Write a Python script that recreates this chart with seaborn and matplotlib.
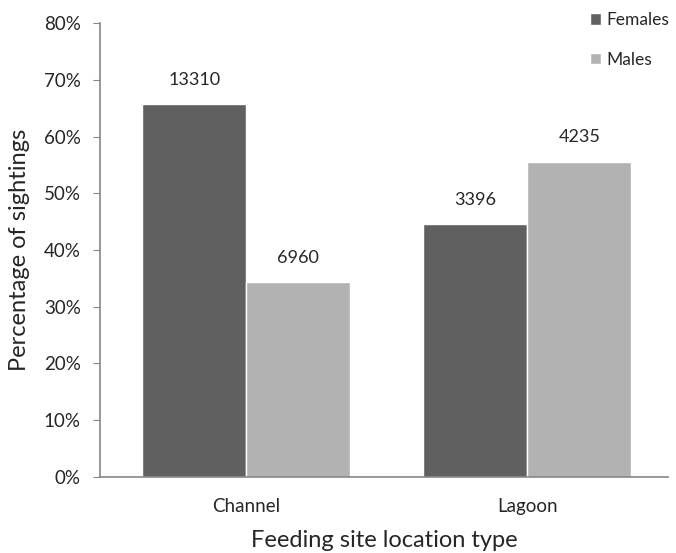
import pandas as pd
import matplotlib.pyplot as plt
import seaborn as sns
from matplotlib.ticker import PercentFormatter

# Data
sites = ["Channel", "Channel", "Lagoon", "Lagoon"]
sexes = ["Females", "Males", "Females", "Males"]
percent = [65.7, 34.3, 44.5, 55.5]
counts = [13310, 6960, 3396, 4235]

df = pd.DataFrame({"site": sites, "sex": sexes, "percent": percent, "count": counts})

sns.set_style("white")
plt.rcParams["font.family"] = ["Lato", "DejaVu Sans"]

fig = plt.figure(figsize=(6.76, 5.53), dpi=100)
ax = fig.add_axes([0.148, 0.138, 0.84, 0.82])

sns.barplot(
    data=df, x="site", y="percent", hue="sex",
    palette={"Females": "#606060", "Males": "#b2b2b2"},
    width=0.74, ax=ax, legend=True, saturation=1
)

# count labels above the bars
for cont, sex in zip(ax.containers, ["Females", "Males"]):
    labs = df[df["sex"] == sex]["count"].astype(str).tolist()
    ax.bar_label(cont, labels=labs, padding=12, fontsize=13)

ax.set_ylim(0, 80)
ax.set_xlim(-0.52, 1.5)
ax.set_yticks(range(0, 81, 10))
ax.yaxis.set_major_formatter(PercentFormatter(decimals=0))

for side in ["top", "right"]:
    ax.spines[side].set_visible(False)
for side in ["left", "bottom"]:
    ax.spines[side].set_color("#868686")
    ax.spines[side].set_linewidth(1.2)

ax.tick_params(axis="y", left=True, length=5, color="#868686", labelsize=13.5, pad=9)
ax.tick_params(axis="x", bottom=False, labelsize=13.5, pad=12)

ax.set_xlabel("Feeding site location type", fontsize=17, labelpad=11)
ax.set_ylabel("Percentage of sightings", fontsize=17, labelpad=10)

ax.legend(
    loc="upper left", bbox_to_anchor=(0.855, 1.0), bbox_transform=fig.transFigure,
    frameon=False, fontsize=12.5, handlelength=0.65, handleheight=0.65,
    handletextpad=0.3, labelspacing=1.35, borderaxespad=0.3
)

plt.savefig("out.png", dpi=100)
